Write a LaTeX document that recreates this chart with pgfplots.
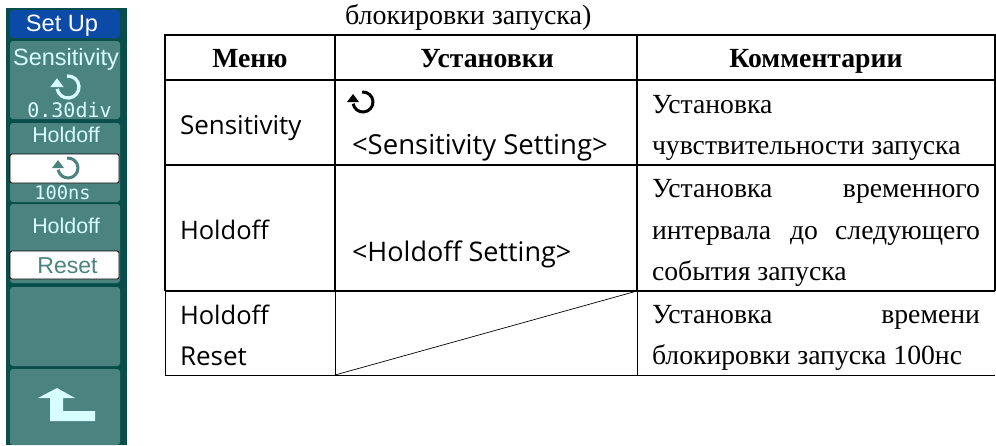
\documentclass[border=0pt]{standalone}
\usepackage{pgfplots}
\pgfplotsset{compat=1.18}
\usepackage{fontspec}
\setmainfont{Liberation Serif}
\newfontfamily\ssf{Open Sans}
\newfontfamily\pan{Liberation Sans}
\newfontfamily\pmono{DejaVu Sans Mono}
\definecolor{pdark}{HTML}{0A4E4C}
\definecolor{pteal}{HTML}{4A837F}
\definecolor{pblue}{HTML}{0C4AA8}
\definecolor{plight}{HTML}{D8FFFF}
\newcommand\rc[6][0pt]{\addplot[fill=#2,draw=none,rounded corners=#1] coordinates {(#3,#4)(#5,#4)(#5,#6)(#3,#6)} -- cycle;}
\newcommand\rot[4]{%x,y,r,col
 \begin{scope}[shift={(axis cs:#1,#2)}]
  \draw[#4,line width=0.3*#3pt] (95:#3pt) arc[start angle=95,end angle=-170,radius=#3pt];
  \fill[#4] (-#3pt-0.6*#3pt,0pt) -- (-#3pt+0.6*#3pt,0pt) -- (-#3pt,0.8*#3pt) -- cycle;
 \end{scope}}
\newcommand\tx[3]{\node[anchor=base west,inner sep=0pt,outer sep=0pt] at (axis cs:#1,#2) {#3};}
\newcommand\tr[3]{\node[anchor=base east,inner sep=0pt,outer sep=0pt] at (axis cs:#1,#2) {#3};}
\newcommand\tc[3]{\node[anchor=base,inner sep=0pt,outer sep=0pt] at (axis cs:#1,#2) {#3};}
\newcommand\fz[1]{\fontsize{#1}{#1}\selectfont}
\begin{document}
\begin{tikzpicture}
\begin{axis}[scale only axis,width=996pt,height=445pt,xmin=0,xmax=996,ymin=0,ymax=445,y dir=reverse,hide axis,clip=false]
% panel
\addplot[fill=white,draw=none] coordinates {(0,0)(996,0)(996,445)(0,445)} -- cycle;
\rc{pdark}{6}{8}{127}{445}
\rc[3pt]{pblue}{10}{10}{120}{38}
\rc[3pt]{pteal}{10}{41}{120}{119}
\rc[3pt]{pteal}{10}{123}{120}{202}
\rc[3pt]{pteal}{10}{204}{120}{283}
\rc[3pt]{pteal}{10}{287}{120}{366}
\rc[3pt]{pteal}{10}{369}{120}{445}
\addplot[fill=white,draw=black,line width=0.8pt,rounded corners=2pt] coordinates {(10,154)(119,154)(119,183)(10,183)} -- cycle;
\addplot[fill=white,draw=black,line width=0.8pt,rounded corners=2pt] coordinates {(10,251)(119,251)(119,279)(10,279)} -- cycle;
\addplot[fill=plight,draw=none] coordinates {(57,388)(38,398)(50,398)(50,421)(95,421)(95,411)(63,411)(63,398)(75,398)} -- cycle;
\tc{62}{31}{\pan\fz{23.6}\color{white}Set Up}
\tc{66}{65}{\pan\fz{23.5}\color{plight}Sensitivity}
\tc{69.5}{117}{\pmono\fz{20}\color{plight}0.30div}
\tc{66}{142}{\pan\fz{21.4}\color{plight}Holdoff}
\tc{62.5}{199}{\pmono\fz{18.7}\color{plight}100ns}
\tc{66}{233}{\pan\fz{21.4}\color{plight}Holdoff}
\tc{67.5}{273}{\pan\fz{23}\color{pteal}Reset}
\rot{68}{87}{11}{plight}
\rot{68}{168}{10}{pteal}
% table
\addplot[black,line width=1.6pt] coordinates {(165,35)(995,35)};
\addplot[black,line width=1.6pt] coordinates {(165,80)(995,80)};
\addplot[black,line width=1.4pt] coordinates {(165,165)(995,165)};
\addplot[black,line width=1.6pt] coordinates {(165,291)(995,291)};
\addplot[black,line width=1pt] coordinates {(165,375)(995,375)};
\addplot[black,line width=1.6pt] coordinates {(165,34)(165,291)};
\addplot[black,line width=1.6pt] coordinates {(335,34)(335,291)};
\addplot[black,line width=1.4pt] coordinates {(637,34)(637,291)};
\addplot[black,line width=1.4pt] coordinates {(995,34)(995,291)};
\addplot[black,line width=1pt] coordinates {(165,291)(165,375)};
\addplot[black,line width=1pt] coordinates {(335,291)(335,375)};
\addplot[black,line width=1pt] coordinates {(637,291)(637,375)};
\addplot[black,line width=0.7pt] coordinates {(335,375)(637,291)};
\rot{363}{102}{10}{black}
\tx{345}{24}{\fz{28}блокировки запуска)}
\tc{250}{67.5}{\fz{27.7}\bfseries Меню}
\tc{487}{67.5}{\fz{27.7}\bfseries Установки}
\tc{816}{67.5}{\fz{27.7}\bfseries Комментарии}
\tx{180}{134}{\ssf\fz{26}Sensitivity}
\tx{352}{154}{\ssf\fz{27.5}<Sensitivity Setting>}
\tx{180}{239}{\ssf\fz{25.5}Holdoff}
\tx{352}{261}{\ssf\fz{27}<Holdoff Setting>}
\tx{180}{324}{\ssf\fz{25.5}Holdoff}
\tx{180}{365}{\ssf\fz{26}Reset}
\tx{652}{113}{\fz{27.7}Установка}
\tx{652}{154}{\fz{27.7}чувствительности запуска}
\tx{652}{197}{\fz{27.7}Установка}
\tr{980}{197}{\fz{27.7}временного}
\tx{652}{239}{\fz{27.7}интервала}
\tx{790}{239}{\fz{27.7}до}
\tr{980}{239}{\fz{27.7}следующего}
\tx{652}{280}{\fz{27.7}события запуска}
\tx{652}{323}{\fz{27.7}Установка}
\tr{980}{323}{\fz{27.7}времени}
\tx{652}{364}{\fz{27.7}блокировки запуска 100нс}
\end{axis}
\end{tikzpicture}
\end{document}
